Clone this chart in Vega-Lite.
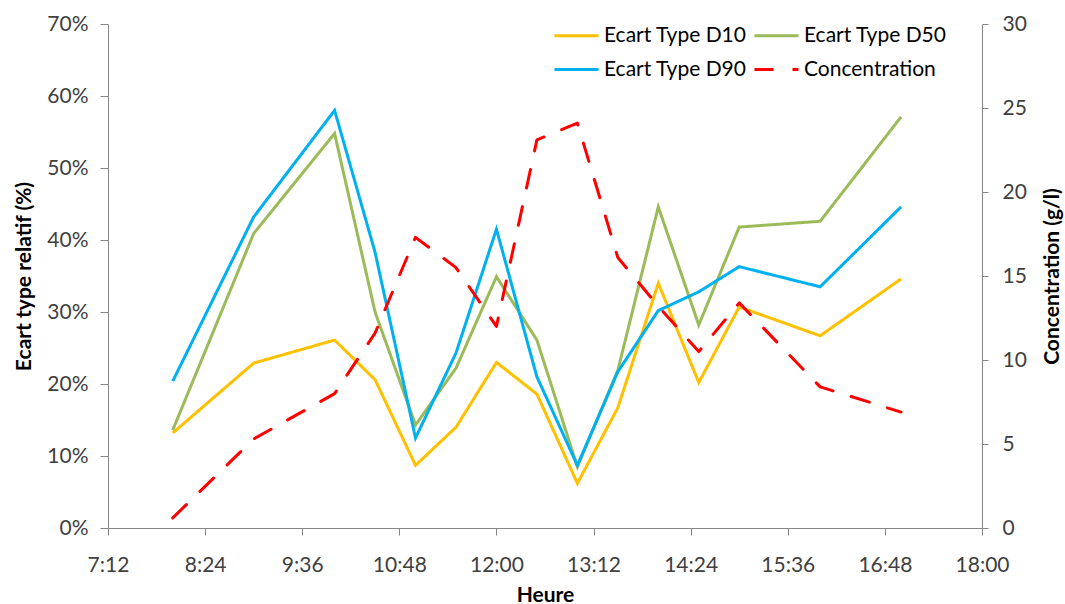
{
  "$schema": "https://vega.github.io/schema/vega-lite/v6.json",
  "width": 874,
  "height": 504,
  "autosize": {"type": "none"},
  "padding": {"left": 108, "top": 24, "right": 83, "bottom": 76},
  "background": "white",
  "config": {
    "font": "Lato",
    "view": {"stroke": null},
    "axis": {
      "grid": false,
      "domainColor": "#868686",
      "tickColor": "#868686",
      "labelFont": "Lato",
      "labelFontSize": 21,
      "labelColor": "#404040",
      "titleFont": "Lato",
      "titleFontSize": 21,
      "titleFontWeight": "bold",
      "titleColor": "#000000"
    },
    "legend": {
      "title": null,
      "orient": "none",
      "legendX": 445,
      "legendY": -12,
      "direction": "horizontal",
      "columns": 2,
      "columnPadding": 1,
      "rowPadding": -8,
      "padding": 0,
      "symbolType": "stroke",
      "symbolSize": 1936,
      "labelFont": "Lato",
      "labelFontSize": 21,
      "labelColor": "#000000",
      "labelOffset": 4,
      "labelLimit": 400
    }
  },
  "data": {
    "values": [
      {"heure": 8, "serie": "Ecart Type D10", "valeur": 0.132},
      {"heure": 9, "serie": "Ecart Type D10", "valeur": 0.229},
      {"heure": 10, "serie": "Ecart Type D10", "valeur": 0.261},
      {"heure": 10.5, "serie": "Ecart Type D10", "valeur": 0.206},
      {"heure": 11, "serie": "Ecart Type D10", "valeur": 0.087},
      {"heure": 11.5, "serie": "Ecart Type D10", "valeur": 0.140},
      {"heure": 12, "serie": "Ecart Type D10", "valeur": 0.230},
      {"heure": 12.5, "serie": "Ecart Type D10", "valeur": 0.186},
      {"heure": 13, "serie": "Ecart Type D10", "valeur": 0.062},
      {"heure": 13.5, "serie": "Ecart Type D10", "valeur": 0.167},
      {"heure": 14, "serie": "Ecart Type D10", "valeur": 0.340},
      {"heure": 14.5, "serie": "Ecart Type D10", "valeur": 0.202},
      {"heure": 15, "serie": "Ecart Type D10", "valeur": 0.307},
      {"heure": 16, "serie": "Ecart Type D10", "valeur": 0.267},
      {"heure": 17, "serie": "Ecart Type D10", "valeur": 0.346},
      {"heure": 8, "serie": "Ecart Type D50", "valeur": 0.136},
      {"heure": 9, "serie": "Ecart Type D50", "valeur": 0.409},
      {"heure": 10, "serie": "Ecart Type D50", "valeur": 0.548},
      {"heure": 10.5, "serie": "Ecart Type D50", "valeur": 0.300},
      {"heure": 11, "serie": "Ecart Type D50", "valeur": 0.143},
      {"heure": 11.5, "serie": "Ecart Type D50", "valeur": 0.222},
      {"heure": 12, "serie": "Ecart Type D50", "valeur": 0.349},
      {"heure": 12.5, "serie": "Ecart Type D50", "valeur": 0.261},
      {"heure": 13, "serie": "Ecart Type D50", "valeur": 0.085},
      {"heure": 13.5, "serie": "Ecart Type D50", "valeur": 0.219},
      {"heure": 14, "serie": "Ecart Type D50", "valeur": 0.446},
      {"heure": 14.5, "serie": "Ecart Type D50", "valeur": 0.282},
      {"heure": 15, "serie": "Ecart Type D50", "valeur": 0.418},
      {"heure": 16, "serie": "Ecart Type D50", "valeur": 0.426},
      {"heure": 17, "serie": "Ecart Type D50", "valeur": 0.571},
      {"heure": 8, "serie": "Ecart Type D90", "valeur": 0.204},
      {"heure": 9, "serie": "Ecart Type D90", "valeur": 0.432},
      {"heure": 10, "serie": "Ecart Type D90", "valeur": 0.580},
      {"heure": 10.5, "serie": "Ecart Type D90", "valeur": 0.383},
      {"heure": 11, "serie": "Ecart Type D90", "valeur": 0.125},
      {"heure": 11.5, "serie": "Ecart Type D90", "valeur": 0.243},
      {"heure": 12, "serie": "Ecart Type D90", "valeur": 0.415},
      {"heure": 12.5, "serie": "Ecart Type D90", "valeur": 0.210},
      {"heure": 13, "serie": "Ecart Type D90", "valeur": 0.087},
      {"heure": 13.5, "serie": "Ecart Type D90", "valeur": 0.217},
      {"heure": 14, "serie": "Ecart Type D90", "valeur": 0.302},
      {"heure": 14.5, "serie": "Ecart Type D90", "valeur": 0.328},
      {"heure": 15, "serie": "Ecart Type D90", "valeur": 0.363},
      {"heure": 16, "serie": "Ecart Type D90", "valeur": 0.335},
      {"heure": 17, "serie": "Ecart Type D90", "valeur": 0.446},
      {"heure": 8, "serie": "Concentration", "valeur": 0.6},
      {"heure": 9, "serie": "Concentration", "valeur": 5.3},
      {"heure": 10, "serie": "Concentration", "valeur": 8.0},
      {"heure": 10.5, "serie": "Concentration", "valeur": 11.6},
      {"heure": 11, "serie": "Concentration", "valeur": 17.3},
      {"heure": 11.5, "serie": "Concentration", "valeur": 15.5},
      {"heure": 12, "serie": "Concentration", "valeur": 12.0},
      {"heure": 12.5, "serie": "Concentration", "valeur": 23.1},
      {"heure": 13, "serie": "Concentration", "valeur": 24.1},
      {"heure": 13.5, "serie": "Concentration", "valeur": 16.1},
      {"heure": 14, "serie": "Concentration", "valeur": 13.2},
      {"heure": 14.5, "serie": "Concentration", "valeur": 10.5},
      {"heure": 15, "serie": "Concentration", "valeur": 13.4},
      {"heure": 16, "serie": "Concentration", "valeur": 8.4},
      {"heure": 17, "serie": "Concentration", "valeur": 6.9}
    ]
  },
  "encoding": {
    "x": {
      "field": "heure",
      "type": "quantitative",
      "scale": {"domain": [7.2, 18], "nice": false, "zero": false},
      "axis": {
        "title": "Heure",
        "values": [7.2, 8.4, 9.6, 10.8, 12, 13.2, 14.4, 15.6, 16.8, 18],
        "labelExpr": "floor(datum.value + 0.001) + ':' + (round((datum.value - floor(datum.value + 0.001)) * 60) < 10 ? '0' : '') + round((datum.value - floor(datum.value + 0.001)) * 60)",
        "tickSize": 7,
        "labelPadding": 19,
        "titlePadding": 9,
        "labelFlush": false,
        "labelOverlap": false
      }
    },
    "color": {
      "field": "serie",
      "type": "nominal",
      "scale": {
        "domain": ["Ecart Type D10", "Ecart Type D50", "Ecart Type D90", "Concentration"],
        "range": ["#FFC000", "#9BBB59", "#00B0F0", "#FF0000"]
      }
    },
    "strokeDash": {
      "field": "serie",
      "type": "nominal",
      "scale": {
        "domain": ["Ecart Type D10", "Ecart Type D50", "Ecart Type D90", "Concentration"],
        "range": [[1, 0], [1, 0], [1, 0], [19, 19]]
      }
    },
    "strokeWidth": {
      "field": "serie",
      "type": "nominal",
      "scale": {
        "domain": ["Ecart Type D10", "Ecart Type D50", "Ecart Type D90", "Concentration"],
        "range": [3, 3, 3, 6]
      }
    }
  },
  "layer": [
    {
      "transform": [{"filter": "datum.serie !== 'Concentration'"}],
      "mark": {"type": "line", "strokeJoin": "miter"},
      "encoding": {
        "y": {
          "field": "valeur",
          "type": "quantitative",
          "scale": {"domain": [0, 0.7], "nice": false},
          "axis": {
            "title": "Ecart type relatif (%)",
            "format": ".0%",
            "values": [0, 0.1, 0.2, 0.3, 0.4, 0.5, 0.6, 0.7],
            "tickSize": 8,
            "labelPadding": 12,
            "titlePadding": 12
          }
        }
      }
    },
    {
      "transform": [{"filter": "datum.serie === 'Concentration'"}],
      "mark": {"type": "line", "strokeCap": "round", "strokeJoin": "round"},
      "encoding": {
        "y": {
          "field": "valeur",
          "type": "quantitative",
          "scale": {"domain": [0, 30], "nice": false},
          "axis": {
            "orient": "right",
            "title": "Concentration (g/l)",
            "values": [0, 5, 10, 15, 20, 25, 30],
            "tickSize": 6,
            "labelPadding": 14,
            "titlePadding": 15,
            "titleAngle": 270,
            "titleBaseline": "top"
          }
        }
      }
    }
  ],
  "resolve": {"scale": {"y": "independent"}}
}
